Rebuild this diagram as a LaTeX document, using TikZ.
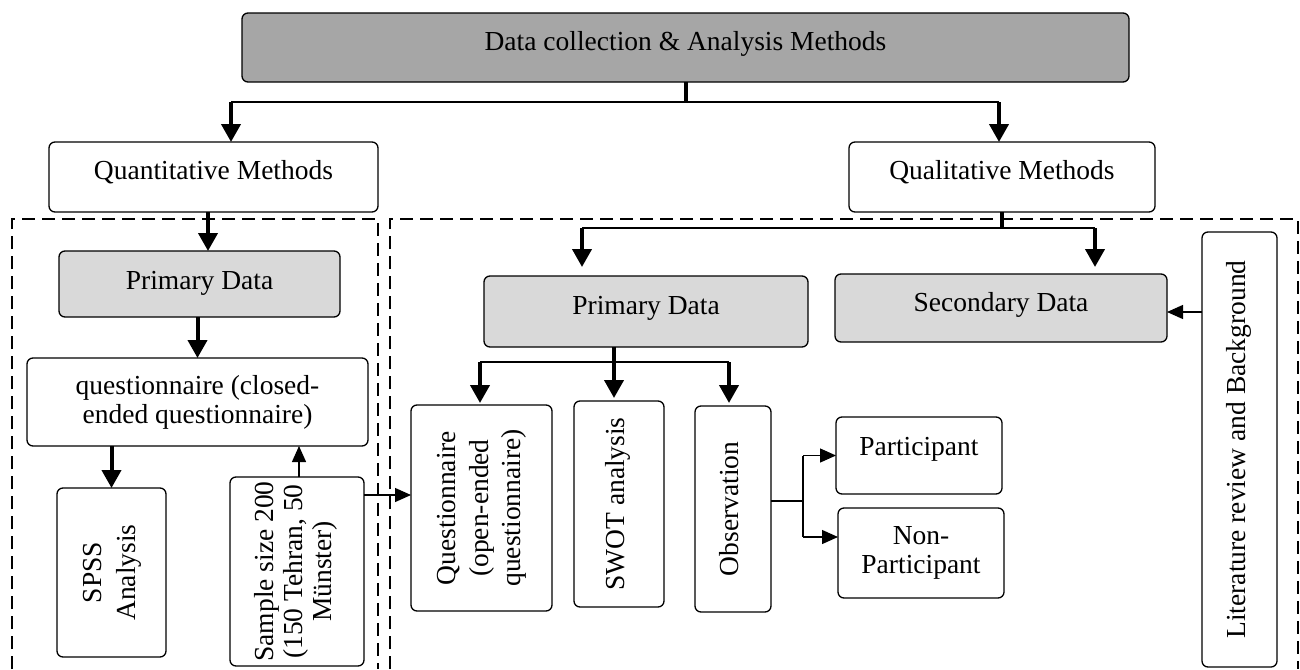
\documentclass[tikz,border=0pt]{standalone}
\usepackage{fontspec}
\setmainfont{Liberation Serif}
\usepackage{tikz}
\usetikzlibrary{arrows.meta,positioning}
\definecolor{boxdark}{HTML}{A6A6A6}
\definecolor{boxlight}{HTML}{D9D9D9}
\newcommand{\uptext}[2][1]{\rotatebox{90}{\renewcommand{\arraystretch}{#1}\begin{tabular}{@{}c@{}}#2\end{tabular}}}
\tikzset{
every node/.style={font=\fontsize{13.75}{14.5}\selectfont},
box/.style={draw,rounded corners=3pt,line width=0.65pt,inner sep=0pt,outer sep=0pt,align=center},
dark/.style={box,fill=boxdark},
light/.style={box,fill=boxlight},
dims/.style 2 args={minimum width=#1,minimum height=#2},
lift/.style={text height=9.6pt,text depth=#1},
link/.style={line width=0.65pt},
stub/.style={line width=2pt},
bigarrow/.style={line width=2pt,-{Triangle[length=9pt,width=9.5pt]}},
smallarrow/.style={line width=0.65pt,-{Triangle[length=8pt,width=7pt]}},
dashline/.style={line width=0.65pt,dash pattern=on 6.5pt off 3.5pt}
}
\begin{document}
\begin{tikzpicture}[x=0.5pt,y=-0.5pt]
\useasboundingbox (0,0) rectangle (1300,669);

% dashed frames
\draw[dashline] (12,669) -- (12,219) -- (378,219) -- (378,669);
\draw[dashline] (390,669) -- (390,219) -- (1298,219) -- (1298,669);

\node[dark,dims={443.5pt}{34.5pt},lift=7.1pt] (top) at (685.5,47.5) {Data collection \& Analysis Methods};
\node[box,dims={164.5pt}{35pt},lift=7.6pt] (quant) at (213.5,177) {Quantitative Methods};
\node[box,dims={153pt}{35pt},lift=7.6pt] (qual) at (1002,177) {Qualitative Methods};

\node[light,dims={140.5pt}{33pt},lift=4.6pt] (prim1) at (199.5,284) {Primary Data};
\node[box,dims={170.5pt}{44pt}] (quest1) at (197.5,402) {questionnaire (closed-\\ended questionnaire)};
\node[box,dims={54.5pt}{84.5pt}] (spss) at (111.5,572.5) {\uptext[1.17]{SPSS\\Analysis}};
\node[box,dims={67pt}{94.5pt}] (sample) at (297,571.5) {\uptext{Sample size 200\\(150 Tehran, 50\\Münster)}};

\node[light,dims={162pt}{35.5pt},lift=7.1pt] (prim2) at (646,311.5) {Primary Data};
\node[light,dims={166pt}{34pt},lift=6.6pt] (second) at (1001,308) {Secondary Data};
\node[box,dims={37.5pt}{217.5pt}] (lit) at (1239.5,449.5) {\uptext{Literature review and Background}};
\node[box,dims={70.5pt}{103pt}] (questo) at (481.5,508) {\uptext[1.12]{Questionnaire\\(open-ended\\questionnaire)}};
\node[box,dims={45pt}{103pt}] (swot) at (619,504) {\uptext{SWOT analysis}};
\node[box,dims={38pt}{103pt}] (obs) at (733,509) {\uptext{Observation}};
\node[box,dims={83pt}{38.5pt},lift=10.1pt] (part) at (919,455.5) {Participant};
\node[box,dims={83pt}{45pt}] (nonpart) at (921,553) {Non-\\Participant};

\coordinate (qnt) at (231,102);
\coordinate (qlt) at (999,102);
\draw[stub] (top.south) -- (top.south |- qnt);
\draw[link] (qnt) -- (qlt);
\draw[bigarrow] (qnt) -- (qnt |- quant.north);
\draw[bigarrow] (qlt) -- (qlt |- qual.north);

\draw[bigarrow] ([xshift=-2.75pt]quant.south) -- ([xshift=-2.75pt]quant.south |- prim1.north);
\draw[bigarrow] (quest1.north |- prim1.south) -- (quest1.north);
\draw[bigarrow] (spss.north |- quest1.south) -- (spss.north);
\draw[smallarrow] ([xshift=1pt]sample.north) -- ([xshift=1pt]sample.north |- quest1.south);
\coordinate (smp) at (364,495);
\draw[smallarrow] (smp) -- (smp -| questo.west);

\coordinate (pl) at (582,228);
\coordinate (pr) at (1095,228);
\draw[stub] (qual.south) -- (qual.south |- pl);
\draw[link] (pl) -- (pr);
\draw[bigarrow,shorten >=4.5pt] (pl) -- (pl |- prim2.north);
\draw[bigarrow,shorten >=3.5pt] (pr) -- (pr |- second.north);

\coordinate (ol) at (480,362);
\coordinate (om) at (614,362);
\coordinate (orr) at (729,362);
\draw[stub] (om |- prim2.south) -- (om);
\draw[link] (ol) -- (orr);
\draw[bigarrow,shorten >=1pt] (ol) -- (ol |- questo.north);
\draw[bigarrow,shorten >=1.5pt] (om) -- (om |- swot.north);
\draw[bigarrow,shorten >=1.5pt] (orr) -- (orr |- obs.north);

\coordinate (ob) at (803,501);
\coordinate (np) at (803,537);
\draw[link] (obs.east |- ob) -- (ob);
\draw[link] (ob |- part.west) -- (np);
\draw[smallarrow] (ob |- part.west) -- (part.west);
\draw[smallarrow] (np) -- (np -| nonpart.west);

\coordinate (lt) at (1202,312);
\draw[smallarrow] (lt) -- (lt -| second.east);
\end{tikzpicture}
\end{document}
